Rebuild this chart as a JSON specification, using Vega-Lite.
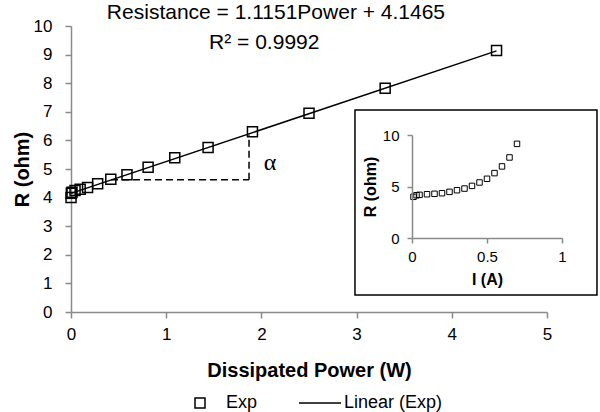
{
  "$schema": "https://vega.github.io/schema/vega-lite/v6.json",
  "width": 476,
  "height": 286,
  "autosize": {"type": "none"},
  "padding": {"left": 71, "top": 26, "right": 53, "bottom": 100},
  "background": "white",
  "config": {
    "view": {"stroke": null},
    "font": "Liberation Sans",
    "axis": {
      "domainColor": "#8a8a8a",
      "domainWidth": 1.5,
      "tickColor": "#8a8a8a",
      "tickWidth": 1.5,
      "grid": false,
      "labelColor": "black",
      "titleColor": "black",
      "labelFont": "Liberation Sans",
      "titleFont": "Liberation Sans",
      "titleFontWeight": "bold",
      "labelFlush": false,
      "labelOverlap": false
    },
    "legend": {"labelFont": "Liberation Sans", "labelColor": "black"}
  },
  "datasets": {
    "exp": [
      {"I": 0.01, "R": 4.0, "P": 0.0004},
      {"I": 0.03, "R": 4.15, "P": 0.0037},
      {"I": 0.05, "R": 4.19, "P": 0.0105},
      {"I": 0.1, "R": 4.25, "P": 0.0425},
      {"I": 0.15, "R": 4.29, "P": 0.0965},
      {"I": 0.2, "R": 4.35, "P": 0.174},
      {"I": 0.25, "R": 4.48, "P": 0.28},
      {"I": 0.3, "R": 4.64, "P": 0.418},
      {"I": 0.35, "R": 4.8, "P": 0.588},
      {"I": 0.4, "R": 5.06, "P": 0.81},
      {"I": 0.45, "R": 5.39, "P": 1.09},
      {"I": 0.5, "R": 5.75, "P": 1.44},
      {"I": 0.55, "R": 6.3, "P": 1.906},
      {"I": 0.6, "R": 6.95, "P": 2.5},
      {"I": 0.65, "R": 7.82, "P": 3.3},
      {"I": 0.7, "R": 9.14, "P": 4.47}
    ],
    "fit": [
      {"P": 0, "R": 4.1465},
      {"P": 4.47, "R": 9.131}
    ],
    "one": [{}]
  },
  "layer": [
    {
      "encoding": {
        "x": {
          "type": "quantitative",
          "scale": {"domain": [0, 5], "nice": false},
          "axis": {
            "title": "Dissipated Power (W)",
            "values": [0, 1, 2, 3, 4, 5], "format": "d",
            "tickSize": 6, "labelFontSize": 17, "labelPadding": 8,
            "titleFontSize": 20, "titlePadding": 18, "labelOverlap": false
          }
        },
        "y": {
          "type": "quantitative",
          "scale": {"domain": [0, 10], "nice": false},
          "axis": {
            "title": "R (ohm)",
            "values": [0, 1, 2, 3, 4, 5, 6, 7, 8, 9, 10],
            "labelExpr": "format(datum.value, 'd')",
            "tickSize": 6, "labelFontSize": 17, "labelPadding": 13,
            "titleFontSize": 20, "titlePadding": 1, "labelOverlap": false, "labelSeparation": 0
          }
        }
      },
      "layer": [
        {
          "data": {"name": "fit"},
          "mark": {"type": "line", "strokeWidth": 1.5},
          "encoding": {
            "x": {"field": "P"},
            "y": {"field": "R"},
            "color": {
              "datum": "Linear (Exp)",
              "scale": {"range": ["black"]},
              "legend": {
                "orient": "none", "legendX": 227, "legendY": 355,
                "title": null, "padding": 0,
                "symbolType": "stroke", "symbolSize": 1764,
                "symbolStrokeColor": "black",
                "symbolStrokeWidth": 1.5, "labelFontSize": 18, "labelOffset": 2
              }
            }
          }
        },
        {
          "data": {"name": "exp"},
          "mark": {"type": "point", "filled": false, "color": "black", "strokeWidth": 1.5, "size": 100, "opacity": 1},
          "encoding": {
            "x": {"field": "P"},
            "y": {"field": "R"},
            "shape": {
              "datum": "Exp",
              "scale": {"range": ["square"]},
              "legend": {
                "orient": "none", "legendX": 120, "legendY": 368,
                "title": null, "padding": 0,
                "symbolSize": 100, "symbolStrokeWidth": 1.5,
                "symbolStrokeColor": "black", "symbolFillColor": "white",
                "labelFontSize": 18, "labelOffset": 17
              }
            }
          }
        },
        {
          "data": {"name": "one"},
          "mark": {"type": "rule", "color": "black", "strokeWidth": 1.5, "strokeDash": [7, 4]},
          "encoding": {
            "x": {"datum": 0.42},
            "x2": {"datum": 1.87},
            "y": {"datum": 4.62}
          }
        },
        {
          "data": {"name": "one"},
          "mark": {"type": "rule", "color": "black", "strokeWidth": 1.5, "strokeDash": [7, 4]},
          "encoding": {
            "x": {"datum": 1.87},
            "y": {"datum": 4.62},
            "y2": {"datum": 6.2}
          }
        },
        {
          "data": {"name": "one"},
          "mark": {"type": "text", "text": "α", "font": "Liberation Serif", "fontSize": 24, "color": "black", "align": "center", "baseline": "middle"},
          "encoding": {
            "x": {"datum": 2.09},
            "y": {"datum": 5.21}
          }
        },
        {
          "data": {"name": "one"},
          "mark": {"type": "text", "text": "Resistance = 1.1151Power + 4.1465", "fontSize": 21, "color": "black", "align": "center", "baseline": "middle"},
          "encoding": {
            "x": {"datum": 2.153},
            "y": {"datum": 10.44}
          }
        },
        {
          "data": {"name": "one"},
          "mark": {"type": "text", "text": "R² = 0.9992", "fontSize": 21, "color": "black", "align": "center", "baseline": "middle"},
          "encoding": {
            "x": {"datum": 2.03},
            "y": {"datum": 9.41}
          }
        },
        {
          "data": {"name": "one"},
          "mark": {"type": "rect", "fill": "white", "stroke": "black", "strokeWidth": 1.5},
          "encoding": {
            "x": {"datum": 2.983},
            "x2": {"datum": 5.525},
            "y": {"datum": 7.063},
            "y2": {"datum": 0.594}
          }
        }
      ]
    },
    {
      "data": {"name": "exp"},
      "mark": {"type": "point", "shape": "square", "filled": false, "color": "black", "strokeWidth": 1, "size": 30, "opacity": 1},
      "encoding": {
        "x": {
          "field": "I", "type": "quantitative",
          "scale": {"domain": [0, 1], "nice": false, "range": [341, 491]},
          "axis": {
            "orient": "bottom", "offset": -74, "zindex": 1,
            "title": "I (A)", "values": [0, 0.5, 1], "format": "~g",
            "tickSize": 5, "labelFontSize": 15, "labelPadding": 6,
            "titleFontSize": 16, "titlePadding": 7
          }
        },
        "y": {
          "field": "R", "type": "quantitative",
          "scale": {"domain": [0, 10], "nice": false, "range": [212, 109]},
          "axis": {
            "orient": "left", "offset": -341, "zindex": 1,
            "title": "R (ohm)", "values": [0, 5, 10],
            "tickSize": 5, "labelFontSize": 15, "labelPadding": 8,
            "titleFontSize": 16, "titlePadding": 4
          }
        }
      }
    }
  ],
  "resolve": {"scale": {"x": "independent", "y": "independent"}}
}
